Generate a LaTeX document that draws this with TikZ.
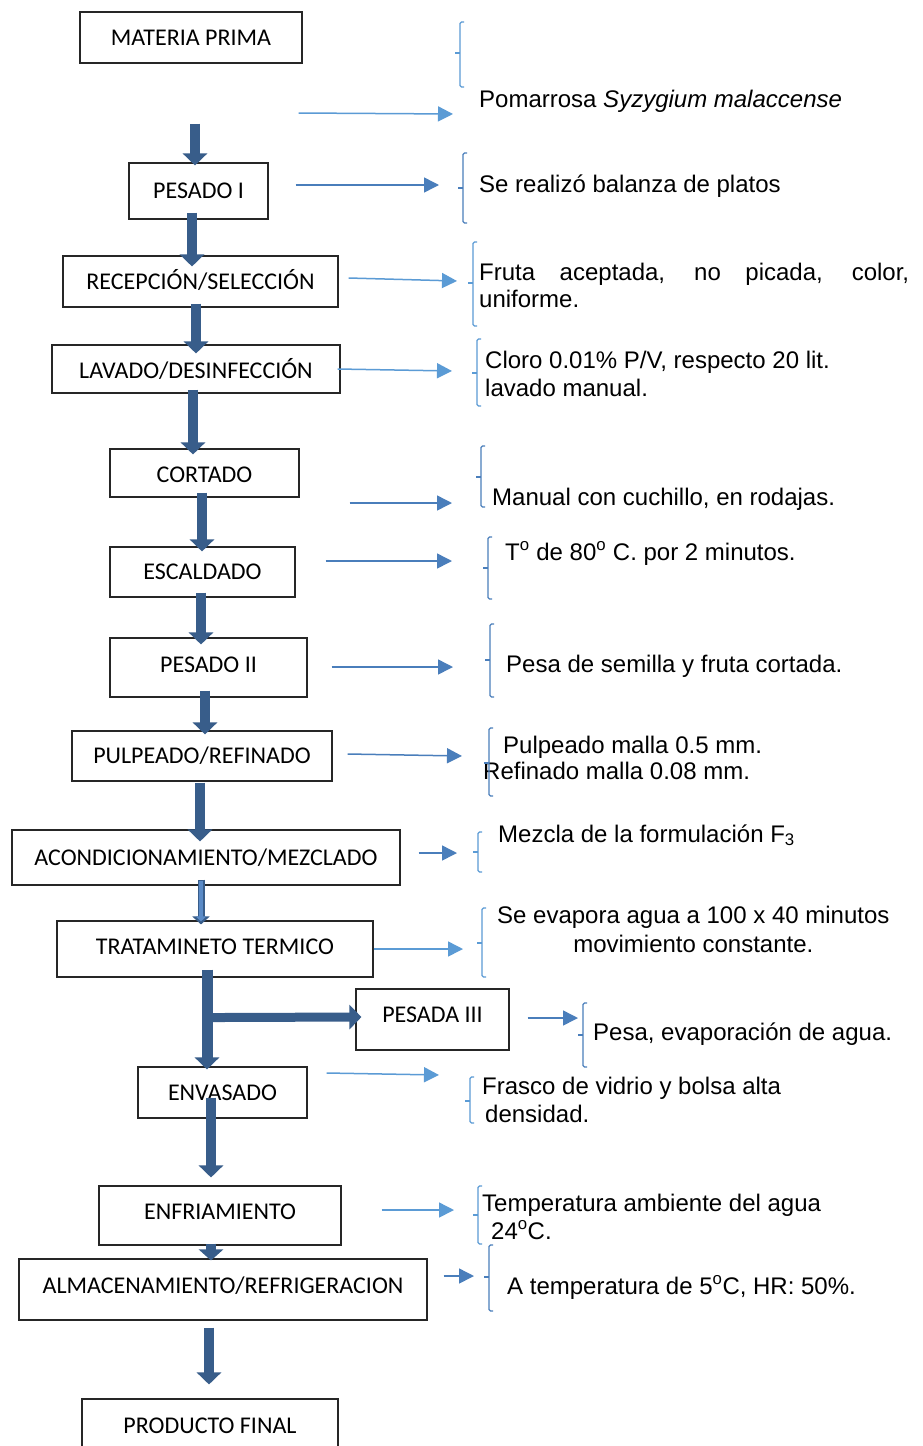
\documentclass[tikz,border=0pt]{standalone}
\usepackage{fontspec}
\setmainfont{Liberation Sans}
\newfontfamily\boxfont{Carlito}
\usetikzlibrary{arrows.meta,calc}

\definecolor{flowblue}{HTML}{385D8A}
\definecolor{flowsoft}{HTML}{5A8AC6}
\definecolor{linklight}{HTML}{5B9BD5}
\definecolor{linkmid}{HTML}{4A7EBB}

% left brace mark: colour, x, top, middle, bottom
\newcommand\bracemark[5]{%
  \draw[#1, line width=1.2pt, rounded corners=1.5pt] (#2+4,#3) -- (#2,#3) -- (#2,#5) -- (#2+4,#5);
  \draw[#1, line width=1.2pt] (#2-5,#4) -- (#2,#4);
}

\begin{document}
\begin{tikzpicture}[x=1pt, y=-1pt,
  stage/.style={draw=black!85, line width=1.1pt, fill=white, inner sep=0pt,
    text height=15.4pt, text depth=0pt, font=\boxfont\fontsize{24}{28}\selectfont},
  note/.style={anchor=base west, inner sep=0pt, font=\fontsize{24}{28}\selectfont},
  flow/.style={draw=flowblue, line width=10pt, -{Triangle[length=12pt,width=24pt]}},
  flowthin/.style={draw=flowblue, line width=7pt, -{Triangle[length=8pt,width=17pt]}},
  flowcore/.style={draw=flowsoft, line width=3.5pt, shorten >=3pt, -{Triangle[length=5pt,width=10pt]}},
  linkL/.style={draw=linklight, line width=1.5pt, -{Triangle[length=15pt,width=15pt]}},
  linkM/.style={draw=linkmid, line width=1.5pt, -{Triangle[length=15pt,width=15pt]}},
]
\useasboundingbox (0,0) rectangle (922,1446);
\fill[white] (0,0) rectangle (922,1446);

% process stages
\node[stage, minimum width=222pt, minimum height=51pt] (mp)  at (191,37.5)    {MATERIA PRIMA};
\node[stage, minimum width=139pt, minimum height=56pt] (p1)  at (198.5,191)   {PESADO I};
\node[stage, minimum width=275pt, minimum height=51pt] (rec) at (200.5,281.5) {RECEPCIÓN/SELECCIÓN};
\node[stage, minimum width=288pt, minimum height=48pt] (lav) at (196,369)     {\raisebox{-1.5pt}{LAVADO/DESINFECCIÓN}};
\node[stage, minimum width=189pt, minimum height=48pt] (cor) at (204.5,473)   {\raisebox{-1.5pt}{CORTADO}};
\node[stage, minimum width=185pt, minimum height=50pt] (esc) at (202.5,572)   {ESCALDADO};
\node[stage, minimum width=197pt, minimum height=59pt] (p2)  at (208.5,667.5) {\raisebox{3pt}{PESADO II}};
\node[stage, minimum width=260pt, minimum height=50pt] (pul) at (202,756)     {PULPEADO/REFINADO};
\node[stage, minimum width=388pt, minimum height=55pt] (aco) at (206,857.5)   {ACONDICIONAMIENTO/MEZCLADO};
\node[stage, minimum width=316pt, minimum height=56pt] (tra) at (215,949)     {\raisebox{2.5pt}{TRATAMINETO TERMICO}};
\node[stage, minimum width=153pt, minimum height=61pt] (p3)  at (432.5,1019.5){\raisebox{5pt}{PESADA III}\hspace{13pt}};
\node[stage, minimum width=169pt, minimum height=51pt] (env) at (222.5,1092.5){ENVASADO};
\node[stage, minimum width=242pt, minimum height=59pt] (enf) at (220,1215.5)  {\raisebox{4pt}{ENFRIAMIENTO}};
\node[stage, minimum width=408pt, minimum height=61pt] (alm) at (223,1289.5)  {\raisebox{4pt}{ALMACENAMIENTO/REFRIGERACION}};
\node[stage, minimum width=256pt, minimum height=53pt] (pf)  at (210,1425.5)  {PRODUCTO FINAL};

% main flow
\draw[flow] ($(mp.south)+(4,60)$)   -- ($(p1.north)+(-3.5,3)$);
\draw[flow] ($(p1.south)+(-6.5,-7)$) -- ($(rec.north)+(-8.5,11)$);
\draw[flow] ($(rec.south)+(-4.5,-4)$) -- ($(lav.north)+(0,9)$);
\draw[flow] ($(lav.south)+(-3,-4)$)  -- ($(cor.north)+(-11.5,6)$);
\draw[flow] ($(cor.south)+(-2.5,-5)$) -- ($(esc.north)+(-0.5,5)$);
\draw[flow] ($(esc.south)+(-1.5,-5)$) -- ($(p2.north)+(-7.5,7)$);
\draw[flow] ($(p2.south)+(-3.5,-7)$) -- ($(pul.north)+(3,4)$);
\draw[flow] ($(pul.south)+(-2,1)$)   -- ($(aco.north)+(-6,12)$);
\draw[flowthin] ($(aco.south)+(-5,-6)$) -- ($(tra.north)+(-14,4)$);
\draw[flowcore] ($(aco.south)+(-5,-5)$) -- ($(tra.north)+(-14,4)$);
\draw[flow, line width=11pt] ($(tra.south)+(-8,-8)$) -- ($(env.north)+(-15.5,3)$);
\coordinate (split) at ($(tra.south)+(-8,40)$);
\draw[flow, line width=9pt] (split) -- ($(p3.west)+(6,-2.5)$);
\draw[flow] ($(env.south)+(-11.5,-21)$) -- ($(enf.north)+(-9,-8)$);
\draw[flow, -{Triangle[length=11pt,width=24pt]}] ($(enf.south)+(-9,-2)$) -- ($(alm.north)+(-12,2)$);
\draw[flow] ($(alm.south)+(-14,7)$)  -- ($(pf.north)+(-1,-14)$);

% descriptions
\node[note] (t1)  at (479,107) {Pomarrosa \textit{Syzygium malaccense}};
\node[note] (t2)  at (479,192) {Se realizó balanza de platos};
\node[note] (t3)  at (479,280) {\begin{tabular}[t]{@{}l@{}}\makebox[430pt][s]{Fruta aceptada, no picada, color,}\\[-1pt]uniforme.\end{tabular}};
\node[note] (t4)  at (485,368) {\begin{tabular}[t]{@{}l@{}}Cloro 0.01\% P/V, respecto 20 lit.\\lavado manual.\end{tabular}};
\node[note] (t5)  at (492,505) {Manual con cuchillo, en rodajas.};
\node[note] (t6)  at (505,560) {T\textsuperscript{o} de 80\textsuperscript{o} C. por 2 minutos.};
\node[note] (t7)  at (506,672) {Pesa de semilla y fruta cortada.};
\node[note] (t8)  at (483,753) {\begin{tabular}[t]{@{}l@{}}\hspace{20pt}Pulpeado malla 0.5 mm.\\[-2pt]Refinado malla 0.08 mm.\end{tabular}};
\node[note] (t9)  at (498,842) {Mezcla de la formulación F\textsubscript{3}};
\node[note] (t10) at (497,923) {\begin{tabular}[t]{@{}c@{}}Se evapora agua a 100 x 40 minutos\\[1pt]movimiento constante.\end{tabular}};
\node[note] (t11) at (593,1040) {Pesa, evaporación de agua.};
\node[note] (t12) at (482,1094) {\begin{tabular}[t]{@{}l@{}}Frasco de vidrio y bolsa alta\\\hspace{3pt}densidad.\end{tabular}};
\node[note] (t13) at (482,1211) {\begin{tabular}[t]{@{}l@{}}Temperatura ambiente del agua\\\hspace{9pt}24\textsuperscript{o}C.\end{tabular}};
\node[note] (t14) at (507,1294) {A temperatura de 5\textsuperscript{o}C, HR: 50\%.};

% links from stages to descriptions
\draw[linkL] ($(mp.east)+(-4,75.5)$)   -- ($(t1.base west)+(-26,7)$);
\draw[linkM] ($(p1.east)+(27,-6)$)     -- ($(t2.base west)+(-40,-7)$);
\draw[linkL] ($(rec.east)+(10,-3.5)$)  -- ($(t3.base west)+(-22,1)$);
\draw[linkL] ($(lav.east)+(-3,0)$)     -- ($(t4.base west)+(-33,3)$);
\draw[linkM] ($(cor.east)+(50,30)$)    -- ($(t5.base west)+(-40,-2)$);
\draw[linkM] ($(esc.east)+(30,-11)$)   -- ($(t6.base west)+(-53,1)$);
\draw[linkM] ($(p2.east)+(24,-0.5)$)   -- ($(t7.base west)+(-53,-5)$);
\draw[linkM] ($(pul.east)+(15,-2)$)    -- ($(t8.base west)+(-21,3)$);
\draw[linkM] ($(aco.east)+(18,-4.5)$)  -- ($(t9.base west)+(-41,11)$);
\draw[linkL] ($(tra.east)+(0,0)$)      -- ($(t10.base west)+(-34,26)$);
\draw[linkM] ($(p3.east)+(18,-1.5)$)   -- ($(t11.base west)+(-15,-22)$);
\draw[linkL] ($(env.east)+(19,-19.5)$) -- ($(t12.base west)+(-43,-19)$);
\draw[linkL] ($(enf.east)+(40,-5.5)$)  -- ($(t13.base west)+(-28,-1)$);
\draw[linkM] ($(alm.east)+(16,-13.5)$) -- ($(t14.base west)+(-33,-18)$);

% braces
\bracemark{linklight}{460}{22}{53}{87}
\bracemark{linkmid}{463}{153}{188}{223}
\bracemark{linklight}{473}{242}{283}{326}
\bracemark{linklight}{477}{339}{373}{406}
\bracemark{linkmid}{481}{446}{477}{507}
\bracemark{linkmid}{488}{537}{568}{599}
\bracemark{linkmid}{490}{624}{660}{697}
\bracemark{linkmid}{489}{728}{763}{796}
\bracemark{linklight}{478}{832}{852}{872}
\bracemark{linklight}{482}{908}{943}{977}
\bracemark{linkmid}{583}{1003}{1035}{1067}
\bracemark{linklight}{470}{1077}{1101}{1123}
\bracemark{linklight}{478}{1186}{1215}{1244}
\bracemark{linkmid}{489}{1245}{1277}{1311}
\end{tikzpicture}
\end{document}
